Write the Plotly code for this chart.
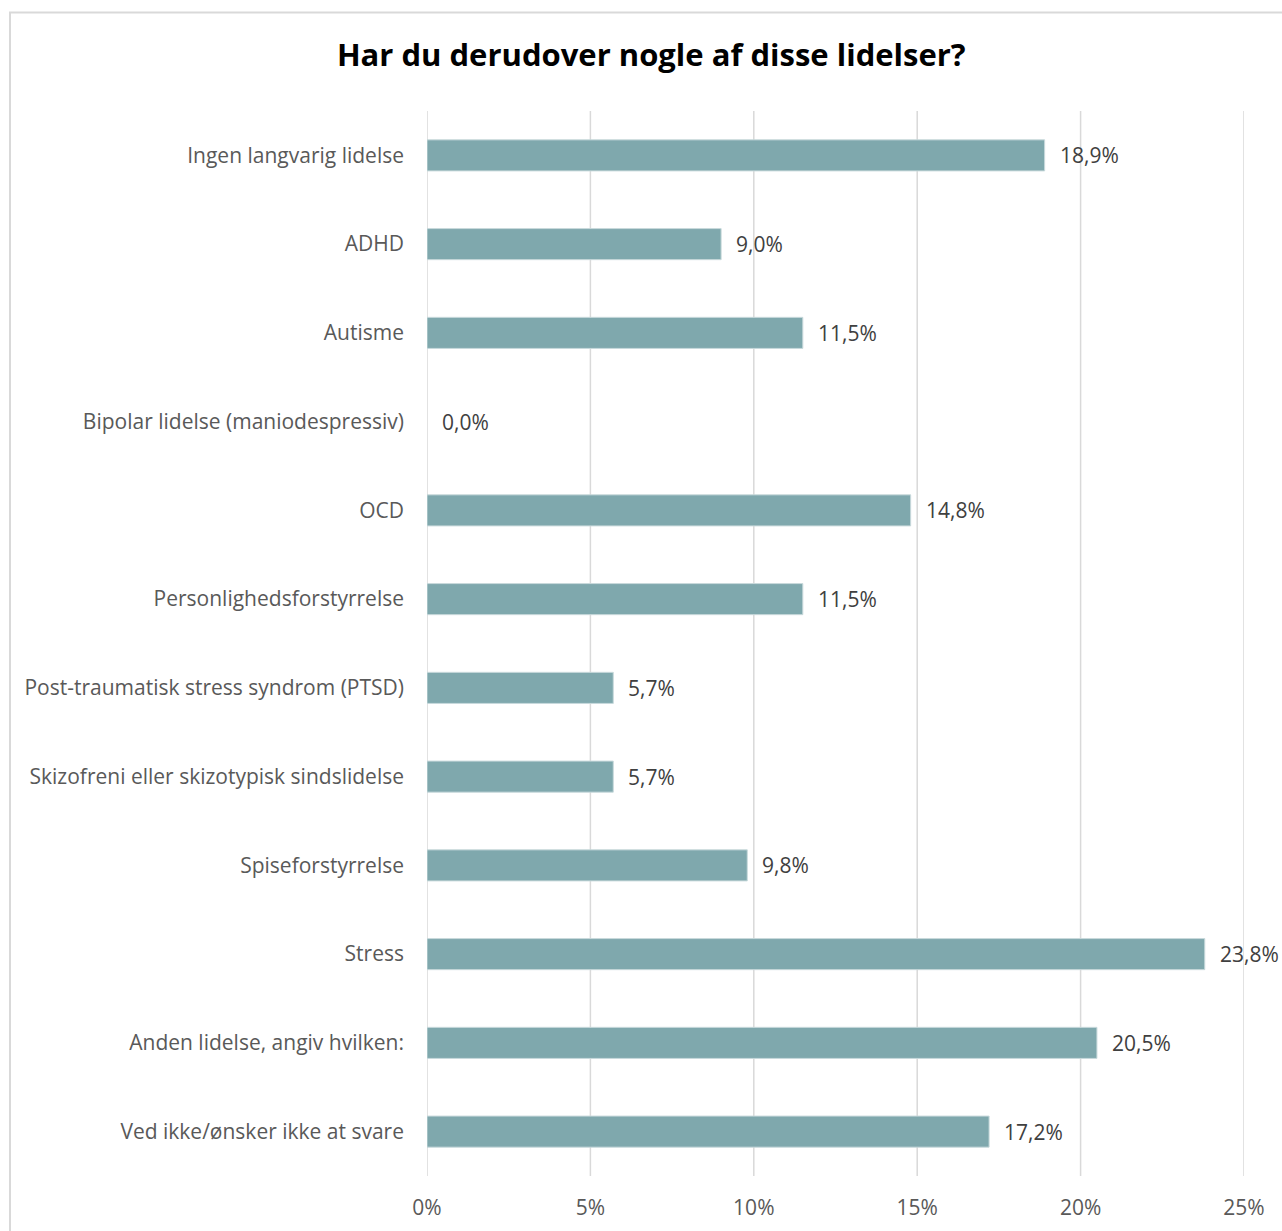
import plotly.graph_objects as go

categories = [
    "Ingen langvarig lidelse",
    "ADHD",
    "Autisme",
    "Bipolar lidelse (maniodespressiv)",
    "OCD",
    "Personlighedsforstyrrelse",
    "Post-traumatisk stress syndrom (PTSD)",
    "Skizofreni eller skizotypisk sindslidelse",
    "Spiseforstyrrelse",
    "Stress",
    "Anden lidelse, angiv hvilken:",
    "Ved ikke/ønsker ikke at svare",
]
values = [0.189, 0.090, 0.115, 0.000, 0.148, 0.115, 0.057, 0.057, 0.098, 0.238, 0.205, 0.172]
x_ticks = [0, 0.05, 0.10, 0.15, 0.20, 0.25]
x_tick_labels = ["0%", "5%", "10%", "15%", "20%", "25%"]

FONT = "Open Sans"
W, H = 1282, 1231
ml, mr, mt, mb = 427, 38, 111, 55

fig = go.Figure()
fig.add_trace(go.Bar(
    x=values, y=categories, orientation="h",
    marker=dict(color="#7FA8AD",
                line=dict(color="#C9DADC", width=[0 if v == 0 else 1 for v in values])),
    hoverinfo="skip",
))

annotations = []
for c, v in zip(categories, values):
    annotations.append(dict(
        x=v, y=c, xref="x", yref="y", text=f"{v*100:.1f}%".replace(".", ","),
        showarrow=False, xanchor="left", yanchor="middle", xshift=13,
        font=dict(family=FONT, size=21, color="#404040"),
    ))

pw, ph = W - ml - mr, H - mt - mb
def px_to_paper_x(px):
    return (px - ml) / pw
def px_to_paper_y(py):
    return 1 - (py - mt) / ph

shapes = [dict(
    type="rect", xref="paper", yref="paper",
    x0=px_to_paper_x(10), x1=px_to_paper_x(1300),
    y0=px_to_paper_y(1260), y1=px_to_paper_y(12.5),
    line=dict(color="#D9D9D9", width=2), layer="below",
)]
for t in x_ticks:
    shapes.append(dict(
        type="line", xref="x", yref="paper", x0=t, x1=t, y0=0, y1=1,
        line=dict(color="#D9D9D9", width=1.5), layer="below",
    ))

fig.update_layout(
    width=W, height=H,
    margin=dict(l=ml, r=mr, t=mt, b=mb, autoexpand=False),
    paper_bgcolor="white", plot_bgcolor="white",
    title=dict(text="<b>Har du derudover nogle af disse lidelser?</b>",
               x=0.508, xanchor="center", y=1 - 55 / H, yanchor="middle",
               font=dict(family=FONT, size=31, color="#000000")),
    showlegend=False,
    bargap=0.65,
    annotations=annotations,
    shapes=shapes,
    font=dict(family=FONT, size=21, color="#595959"),
)
fig.update_xaxes(
    range=[0, 0.25], tickvals=x_ticks, ticktext=x_tick_labels,
    showgrid=False, zeroline=False, showline=False, ticks="",
    ticklabelstandoff=17, automargin=False,
    tickfont=dict(family=FONT, size=21, color="#595959"),
)
fig.update_yaxes(
    autorange="reversed", showgrid=False, zeroline=False, showline=False,
    ticks="", ticklabelstandoff=22, automargin=False,
    tickfont=dict(family=FONT, size=21, color="#595959"),
)

fig.write_html("out.html")
